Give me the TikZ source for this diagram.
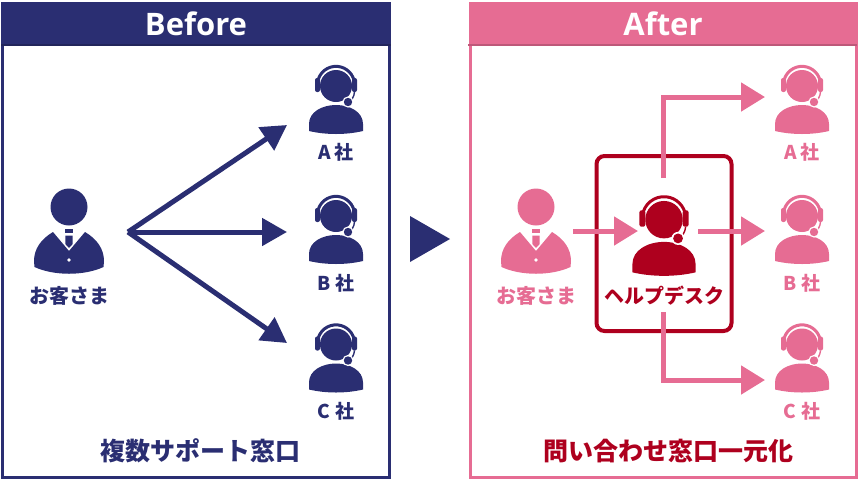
\documentclass[tikz,border=0pt]{standalone}
\usepackage{fontspec}
\setmainfont{Noto Sans CJK JP}
\newfontfamily\headfont{Open Sans}
\usetikzlibrary{positioning,arrows.meta}
\definecolor{navy}{HTML}{2A2E72}
\definecolor{rose}{HTML}{E66C93}
\definecolor{crimson}{HTML}{AE001E}
\tikzset{
    pics/agent/.style={code={
        \fill[#1] (0,1) circle[radius=16];
        \draw[#1, line width=3] (-18.5,-2) arc[start angle=186, end angle=354, radius=18.6];
        \fill[#1, rounded corners=2] (-21,-7) rectangle (-16,7);
        \fill[#1, rounded corners=2] (16,-7) rectangle (21,7);
        \fill[#1] (-27,46) -- (-27,39) .. controls (-27,27) and (-14,20) .. (0,20) .. controls (14,20) and (27,27) .. (27,39) -- (27,46) .. controls (10,50) and (-10,50) .. cycle;
        \draw[#1, line width=1.4] (18.5,7) .. controls (18,12) and (16,15) .. (12,17);
        \fill[white] (12,17) circle[radius=5.6];
        \fill[#1] (12,17) circle[radius=4.2];
    }},
    pics/client/.style={code={
        \fill[#1] (0,0) circle[radius=18.5];
        \fill[#1] (-3.7,21.5) rectangle (3.7,26);
        \fill[#1] (-3.7,28.5) -- (3.7,28.5) -- (3.7,37) -- (0,41) -- (-3.7,37) -- cycle;
        \fill[#1] (-16,25) -- (0,44) -- (16,25) .. controls (28,32) and (35,42) .. (35,54) -- (34.5,60) .. controls (15,69) and (-15,69) .. (-34.5,60) -- (-35,54) .. controls (-35,42) and (-28,32) .. cycle;
        \fill[white] (0,53) circle[radius=1.9];
    }},
    panel/.style={draw=#1, line width=3, minimum height=474, inner sep=0},
    banner/.style={fill=#1, minimum height=44, inner sep=0, text=white, font=\headfont\bfseries\fontsize{31}{31}\selectfont},
    tag/.style={text=#1, inner sep=0, font=\bfseries\fontsize{19}{19}\selectfont},
    bigtag/.style={text=#1, inner sep=0, font=\bfseries\fontsize{20}{20}\selectfont},
    caption/.style={text=#1, inner sep=0, font=\bfseries\fontsize{25}{25}\selectfont},
    beforearrow/.style={navy, line width=5, -{Triangle[length=25, width=27]}},
    afterarrow/.style={rose, line width=5, -{Triangle[length=24, width=28]}},
}
\begin{document}
\begin{tikzpicture}[x=1pt, y=-1pt]
    \useasboundingbox (0,0) rectangle (859,480);
    \node [panel=navy, minimum width=387] (beforepanel) at (196,240.5) {};
    \node [panel=rose, minimum width=386] (afterpanel) at (663,240.5) {};
    \node [banner=navy, minimum width=390] (beforehead) at (196,24) {Before};
    \node [banner=rose, minimum width=389] (afterhead) at (663,24) {After};
    \fill [navy!80!black] (beforehead.south west) rectangle ++(390,-2);
    \fill [rose!82!black] (afterhead.south west) rectangle ++(389,-2);

    \coordinate (custA) at (69,207);
    \coordinate (agentA) at (336,85);
    \coordinate [below=130pt of agentA] (agentB);
    \coordinate [below=128.5pt of agentB] (agentC);
    \coordinate [right=466pt of agentA] (siteA);
    \coordinate [right=466pt of agentB] (siteB);
    \coordinate [right=466pt of agentC] (siteC);
    \coordinate [right=467pt of custA] (custB);
    \coordinate (helper) at (664,218.5);

    \pic at (custA) {client=navy};
    \pic at (agentA) {agent=navy};
    \pic at (agentB) {agent=navy};
    \pic at (agentC) {agent=navy};
    \pic at (custB) {client=rose};
    \pic at (siteA) {agent=rose};
    \pic at (siteB) {agent=rose};
    \pic at (siteC) {agent=rose};
    \pic [scale=1.17] at (helper) {agent=crimson};

    \node [bigtag=navy, below=79pt of custA] (custlabel) {お客さま};
    \node [tag=navy, below=58pt of agentA] (labelA) {A 社};
    \node [tag=navy, below=59pt of agentB] (labelB) {B 社};
    \node [tag=navy, below=59pt of agentC] (labelC) {C 社};
    \node [bigtag=rose, below=79pt of custB] (custlabelb) {お客さま};
    \node [tag=rose, below=58pt of siteA] (labelAb) {A 社};
    \node [tag=rose, below=59pt of siteB] (labelBb) {B 社};
    \node [tag=rose, below=59pt of siteC] (labelCb) {C 社};
    \node [bigtag=crimson, below=67pt of helper] (helperlabel) {ヘルプデスク};
    \node [caption=navy] (beforetext) at (200,451) {複数サポート窓口};
    \node [caption=crimson] (aftertext) at (668,451) {問い合わせ窓口一元化};

    \node [draw=crimson, line width=4, rounded corners=8, minimum width=135, minimum height=175, inner sep=0] (deskbox) at (664,243.5) {};

    \coordinate (fan) at (128,232);
    \coordinate (fanA) at (287,125);
    \coordinate (fanB) at (287,232);
    \coordinate (fanC) at (287,343);
    \draw [beforearrow] (fan) -- (fanA);
    \draw [beforearrow] (fan) -- (fanB);
    \draw [beforearrow] (fan) -- (fanC);

    \fill [navy] (410,216) -- (450,239) -- (410,262) -- cycle;

    \coordinate (inL) at (573,231);
    \coordinate (inR) at (638,231);
    \coordinate (outL) at (698,231);
    \coordinate (outR) at (765,231);
    \coordinate (upL) at (663,178);
    \coordinate (upR) at (765,97);
    \coordinate (downL) at (663,312);
    \coordinate (downR) at (765,380);
    \draw [afterarrow] (inL) -- (inR);
    \draw [afterarrow] (outL) -- (outR);
    \draw [afterarrow] (upL) |- (upR);
    \draw [afterarrow] (downL) |- (downR);
\end{tikzpicture}
\end{document}
